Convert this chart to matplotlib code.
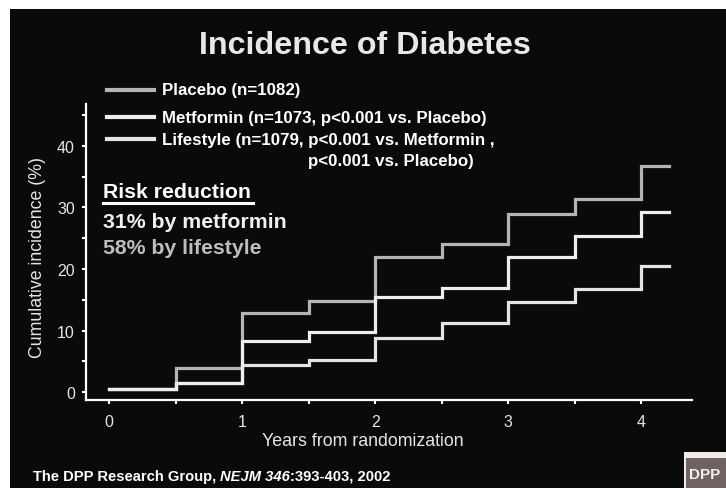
import matplotlib.pyplot as plt
from matplotlib.lines import Line2D
from matplotlib.patches import Rectangle

plt.rcParams['font.family'] = ['Liberation Sans', 'DejaVu Sans']

# years from randomization (step starts) and cumulative incidence (%)
years = [0, 0.5, 1, 1.5, 2, 2.5, 3, 3.5, 4, 4.21]
placebo = [0.5, 3.9, 12.9, 14.8, 22.0, 24.0, 29.0, 31.3, 36.7, 36.7]
metformin = [0.5, 1.5, 8.4, 9.8, 15.4, 17.0, 22.0, 25.3, 29.3, 29.3]
lifestyle = [0.5, 1.5, 4.5, 5.2, 8.8, 11.2, 14.7, 16.8, 20.5, 20.5]

legend_labels = ['Placebo (n=1082)',
                 'Metformin (n=1073, p<0.001 vs. Placebo)',
                 'Lifestyle (n=1079, p<0.001 vs. Metformin ,']
legend_extra = 'p<0.001 vs. Placebo)'
colors = ['#b4b4b4', '#eeeeee', '#e4e4e4']

bg = '#0a0a0a'
fig = plt.figure(figsize=(7.26, 4.89), dpi=100, facecolor='white')
# black slide area (white strip along top and left)
fig.add_artist(Rectangle((10 / 726, 0), 1, 1 - 10 / 489, transform=fig.transFigure,
                         facecolor=bg, edgecolor='none', zorder=0))

ax = fig.add_axes([86 / 726, 87.7 / 489, (691.7 - 86) / 726, (401.3 - 105) / 489])
ax.set_facecolor(bg)

ax.step(years, placebo, where='post', color=colors[0], lw=2.3, solid_joinstyle='miter', zorder=2)
ax.step(years, lifestyle, where='post', color=colors[2], lw=2.3, solid_joinstyle='miter', zorder=3)
ax.step(years, metformin, where='post', color=colors[1], lw=2.3, solid_joinstyle='miter', zorder=4)

ax.set_xlim(-0.173, 4.378)
ax.set_ylim(-1.3, 46.8)
for s in ['top', 'right']:
    ax.spines[s].set_visible(False)
for s in ['left', 'bottom']:
    ax.spines[s].set_color('white')
    ax.spines[s].set_linewidth(1.6)

ax.set_xticks([0, 1, 2, 3, 4])
ax.set_xticks([0.5, 1.5, 2.5, 3.5], minor=True)
ax.set_yticks([0, 10, 20, 30, 40])
ax.set_yticks([5, 15, 25, 35, 45], minor=True)
ax.tick_params(which='both', colors='white', length=3, width=1.5, direction='out')
ax.tick_params(axis='x', which='major', labelsize=11.5, labelcolor='#e6e6e6', pad=7)
ax.tick_params(axis='y', which='major', labelsize=11.5, labelcolor='#e6e6e6', pad=5)

ax.set_xlabel('Years from randomization', fontsize=12.8, color='#e6e6e6')
ax.set_ylabel('Cumulative incidence (%)', fontsize=12.8, color='#e6e6e6')
ax.xaxis.set_label_coords((363 - 86) / 605.7, -(442 - 401.3) / 296.3)
ax.yaxis.set_label_coords(-(86 - 37) / 605.7, (401.3 - 257) / 296.3)
ax.xaxis.label.set_va('center')
ax.yaxis.label.set_va('center')

fig.text(365 / 726, 1 - 46 / 489, 'Incidence of Diabetes', ha='center', va='center',
         fontsize=23.2, fontweight='bold', color='#e8e8e8')

# legend
leg_y = [91, 118, 140]
for lab, c, yy in zip(legend_labels, colors, leg_y):
    fig.add_artist(Line2D([107 / 726, 154 / 726], [1 - yy / 489, 1 - yy / 489],
                          color=c, lw=3, transform=fig.transFigure))
    fig.text(162 / 726, 1 - yy / 489, lab, ha='left', va='center', fontsize=12.2,
             fontweight='bold', color='white')
fig.text(308 / 726, 1 - 162 / 489, legend_extra, ha='left', va='center', fontsize=12.2,
         fontweight='bold', color='white')

# risk reduction box
fig.text(103 / 726, 1 - 193 / 489, 'Risk reduction', ha='left', va='center',
         fontsize=15.3, fontweight='bold', color='white')
fig.add_artist(Line2D([103 / 726, 253 / 726], [1 - 203.5 / 489, 1 - 203.5 / 489],
                      color='white', lw=2.2, transform=fig.transFigure))
fig.text(103 / 726, 1 - 222 / 489, '31% by metformin', ha='left', va='center',
         fontsize=15.3, fontweight='bold', color='#f0f0f0')
fig.text(103 / 726, 1 - 249 / 489, '58% by lifestyle', ha='left', va='center',
         fontsize=15.3, fontweight='bold', color='#bdbdbd')

# footer citation, pieced together so NEJM 346 can be italic
renderer = fig.canvas.get_renderer()
parts = [('The DPP Research Group, ', 'normal'), ('NEJM 346', 'italic'),
         (':393-403, 2002', 'normal')]
x0 = 33.0
for txt, style in parts:
    t = fig.text(x0 / 726, 1 - 477 / 489, txt, ha='left', va='center', fontsize=10.6,
                 fontweight='bold', fontstyle=style, color='white')
    x0 += t.get_window_extent(renderer).width

# DPP logo
fig.add_artist(Rectangle((684 / 726, 0), 42 / 726, 36 / 489, transform=fig.transFigure,
                         facecolor='#f0eaea', edgecolor='none'))
fig.add_artist(Rectangle((686 / 726, 0), 40 / 726, 30 / 489, transform=fig.transFigure,
                         facecolor='#6e6262', edgecolor='none'))
fig.text(705 / 726, 14 / 489, 'DPP', ha='center', va='center', fontsize=11,
         fontweight='bold', color='#f4eeee')

fig.savefig('out.png', dpi=100, facecolor=fig.get_facecolor())
